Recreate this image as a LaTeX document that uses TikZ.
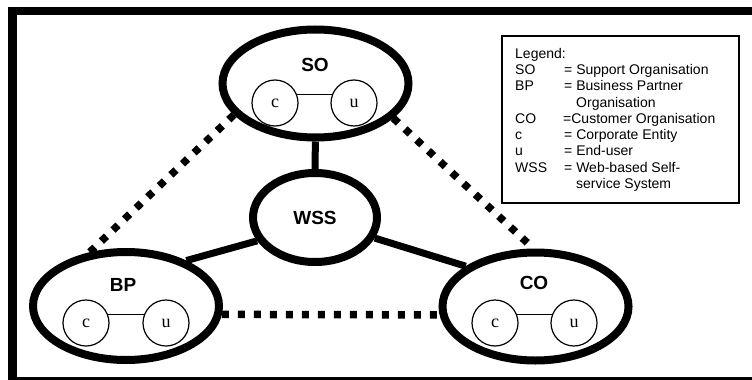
\documentclass[tikz,border=0pt]{standalone}
\usepackage{fontspec}
\setmainfont{Liberation Sans}
\newfontfamily\entfont{Liberation Serif}
\usetikzlibrary{shapes.geometric}

\begin{document}
\begin{tikzpicture}[x = 1pt, y = -1pt,
		org/.style = {draw, ellipse, line width = 8pt, minimum width = 186pt, minimum height = 108pt, inner sep = 0pt},
		ent/.style = {draw, circle, line width = 1.2pt, minimum size = 46pt, inner sep = 0pt, font = \entfont\fontsize{18}{18}\selectfont},
		orgname/.style = {font = \bfseries\fontsize{19}{19}\selectfont},
		link/.style = {line width = 7pt},
		weak/.style = {line width = 7.5pt, dash pattern = on 7pt off 9pt}]
		\useasboundingbox (0, 0) rectangle (752, 380);
		\clip (0, 0) rectangle (752, 380);
		\draw [line width = 8.5pt] (12.5, 11) rectangle (770, 381);
		%%%%%%%%%%%%%
		\node [org] (so) at (315.5, 83.5) {};
		\node [orgname] (sol) at (315, 65) {SO};
		\node [ent] (so1) at (275, 103) {c};
		\node [ent] (so2) at (354, 103) {u};
		%%%%%%%%%%%%%
		\node [org] (bp) at (126, 306) {};
		\node [orgname] (bpl) at (123, 285) {BP};
		\node [ent] (bp1) at (86, 323) {c};
		\node [ent] (bp2) at (166, 323) {u};
		%%%%%%%%%%%%%
		\node [org] (co) at (535.5, 306.5) {};
		\node [orgname] (col) at (534, 283) {CO};
		\node [ent] (co1) at (495, 323) {c};
		\node [ent] (co2) at (574, 323) {u};
		%%%%%%%%%%%%%
		\node [draw, ellipse, line width = 8pt, minimum width = 124pt, minimum height = 89pt, inner sep = 0pt, orgname] (wss) at (315, 217.5) {WSS};
		%%%%%%%%%%%%%
		\node [draw, line width = 1.5pt, minimum width = 237pt, minimum height = 167pt, anchor = north west] (keybox) at (501, 35) {};
		\node [anchor = north west, align = left, inner sep = 0pt, font = \fontsize{14}{16.25}\selectfont] (key) at (515, 48) {Legend:\\
			\makebox[49pt][l]{SO}= Support Organisation\\
			\makebox[49pt][l]{BP}= Business Partner\\
			\hspace*{61pt}Organisation\\
			\makebox[48pt][l]{CO}=Customer Organisation\\
			\makebox[49pt][l]{c}= Corporate Entity\\
			\makebox[49pt][l]{u}= End-user\\
			\makebox[49pt][l]{WSS}= Web-based Self-\\
			\hspace*{61pt}service System};
		%%%%%%%%%%%%%
		\draw [line width = 1.2pt] (so1.22) to (so2.158);
		\draw [line width = 1.2pt] (bp1.22) to (bp2.158);
		\draw [line width = 1.2pt] (co1.22) to (co2.158);
		%%%%%%%%%%%%%%%%%%%%%%
		\draw [link] (so) to (wss);
		\draw [link] (wss.202) to (bp.37);
		\draw [link] (wss.341) to (co.150);
		\draw [weak] (so.201) to (bp.124);
		\draw [weak] (so.336) to (co.92);
		\draw [weak] (bp.-5) to (co.185);
\end{tikzpicture}
\end{document}
